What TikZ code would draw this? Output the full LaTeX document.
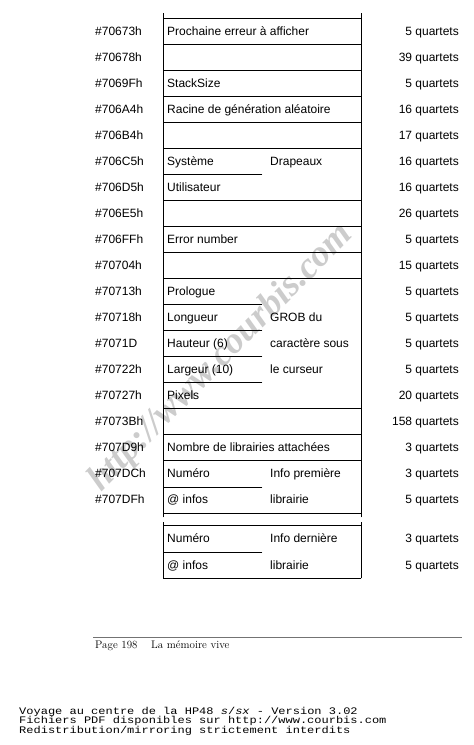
\documentclass[tikz,border=0pt]{standalone}
\usepackage{fontspec}
\newfontfamily\helv{Liberation Sans}
\newfontfamily\mono{Liberation Mono}
\newfontfamily\wmserif{Liberation Serif}
\begin{document}
\begin{tikzpicture}[x=1pt,y=-1pt,
  lbl/.style={inner sep=0pt, anchor=west, text height=8.6pt, text depth=0pt,
              font=\helv\fontsize{12}{14}\selectfont},
  qty/.style={lbl, anchor=east},
  gridline/.style={line width=0.9pt, line cap=rect},
  stamp/.style={inner sep=0pt, anchor=base west, xscale=1.2, font=\mono\fontsize{10}{10}\selectfont},
  pagefoot/.style={inner sep=0pt, anchor=base west, font=\fontsize{11}{12}\selectfont}]
\useasboundingbox (0,0) rectangle (474,745);

% watermark
\node[rotate=45.5, text=black!20, inner sep=0pt,
      font=\wmserif\bfseries\itshape\fontsize{37}{40}\selectfont] (wm) at (221,358) {http://www.courbis.com};

% vertical lines
\draw[gridline] (163,13) -- (163,517);
\draw[gridline] (361,13) -- (361,517);
\draw[gridline] (163,522) -- (163,578);
\draw[gridline] (361,522) -- (361,578);
% full horizontal lines
\foreach \y in {18,44,70,96,122,148,200,226,252,278,408,434,460,513,525,578}
  \draw[gridline] (163,\y) -- (361,\y);
% partial lines
\foreach \y in {174,304,330,356,382,487,552}
  \draw[gridline] (163,\y) -- (262,\y);

% addresses
\foreach \i/\a in {0/\#70673h,1/\#70678h,2/\#7069Fh,3/\#706A4h,4/\#706B4h,5/\#706C5h,
  6/\#706D5h,7/\#706E5h,8/\#706FFh,9/\#70704h,10/\#70713h,11/\#70718h,12/\#7071D,
  13/\#70722h,14/\#70727h,15/\#7073Bh,16/\#707D9h,17/\#707DCh,18/\#707DFh}
  \node[lbl] (a\i) at (95,31+26*\i) {\a};

% quantities
\foreach \i/\q in {0/5,1/39,2/5,3/16,4/17,5/16,6/16,7/26,8/5,9/15,10/5,11/5,12/5,
  13/5,14/20,15/158,16/3,17/3,18/5}
  \node[qty] (q\i) at (459,31+26*\i) {\q{} quartets};
\node[qty] (q19) at (459,538.5) {3 quartets};
\node[qty] (q20) at (459,565) {5 quartets};

% box texts, left column
\foreach \i/\t in {0/{Prochaine erreur à afficher},2/StackSize,3/{Racine de génération aléatoire},
  5/Système,6/Utilisateur,8/{Error number},10/Prologue,11/Longueur,12/{Hauteur (6)},
  13/{Largeur (10)},14/Pixels,16/{Nombre de librairies attachées},17/Numéro,18/{@ infos}}
  \node[lbl] (t\i) at (167,31+26*\i) {\t};
\node[lbl] (t19) at (167,538.5) {Numéro};
\node[lbl] (t20) at (167,565) {@ infos};

% right column texts
\node[lbl] (r5) at (270,161) {Drapeaux};
\node[lbl] (r11) at (270,317) {GROB du};
\node[lbl] (r12) at (270,343) {caractère sous};
\node[lbl] (r13) at (270,369) {le curseur};
\node[lbl] (r17) at (270,473) {Info première};
\node[lbl] (r18) at (270,499) {librairie};
\node[lbl] (r19) at (270,538.5) {Info dernière};
\node[lbl] (r20) at (270,565) {librairie};

% page footer
\draw[line width=0.9pt, black!55] (93,637) -- (462,637);
\node[pagefoot] (pg) at (95,648) {Page 198};
\node[pagefoot] (ch) at (151,648) {La mémoire vive};

% stamp
\node[stamp] (s1) at (19,714) {Voyage au centre de la HP48 \textit{s}/\textit{sx} - Version 3.02};
\node[stamp] (s2) at (19,723.5) {Fichiers PDF disponibles sur http://www.courbis.com};
\node[stamp] (s3) at (19,733) {Redistribution/mirroring strictement interdits};
\end{tikzpicture}
\end{document}
